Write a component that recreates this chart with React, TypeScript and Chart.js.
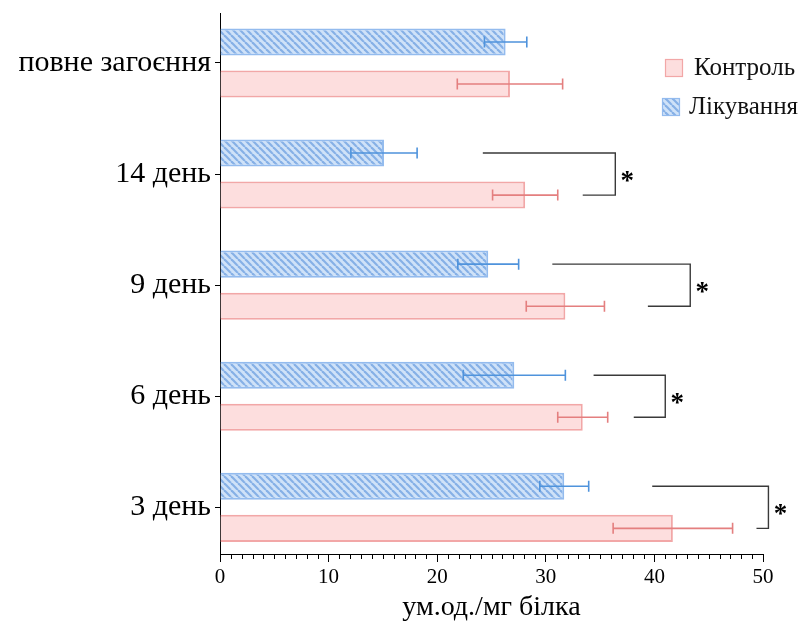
import React, { useEffect, useRef } from "react";
import { Chart, registerables } from "chart.js";

Chart.register(...registerables);

// Categories from top to bottom and their positions on the vertical axis
const categories = ["повне загоєння", "14 день", "9 день", "6 день", "3 день"];
const categoryPos = [4, 3, 2, 1, 0];

const controlLabel = "Контроль";
const controlMeans = [26.7, 28.1, 31.8, 33.4, 41.7];
const controlErrors = [4.85, 3.0, 3.6, 2.3, 5.5];

const treatmentLabel = "Лікування";
const treatmentMeans = [26.3, 15.1, 24.7, 27.1, 31.7];
const treatmentErrors = [1.95, 3.05, 2.8, 4.7, 2.25];

const xTickValues = [0, 10, 20, 30, 40, 50];
const xTitle = "ум.од./мг білка";

// Significance brackets: category index, start of the upper arm, start of the lower arm, spine
const sigIndex = [1, 2, 3, 4];
const sigUpperStart = [24.2, 30.6, 34.4, 39.8];
const sigLowerStart = [33.4, 39.4, 38.1, 49.4];
const sigSpine = [36.4, 43.3, 41.0, 50.5];
const sigMark = "*";

const FONT = "'Liberation Serif', 'Times New Roman', serif";

const PINK_FILL = "#fddede";
const PINK_BORDER = "#f2a7a7";
const PINK_ERR = "#e47f7f";
const BLUE_BG = "#cfe2f8";
const BLUE_STRIPE = "#86b0e6";
const BLUE_BORDER = "#93bbee";
const BLUE_ERR = "#4f93dc";

function makeStripePattern(ctx: CanvasRenderingContext2D): CanvasPattern | string {
  const s = 7;
  const c = document.createElement("canvas");
  c.width = s;
  c.height = s;
  const p = c.getContext("2d");
  if (!p) return BLUE_BG;
  p.fillStyle = BLUE_BG;
  p.fillRect(0, 0, s, s);
  p.strokeStyle = BLUE_STRIPE;
  p.lineWidth = 2.2;
  for (const k of [-s, 0, s]) {
    p.beginPath();
    p.moveTo(k, 0);
    p.lineTo(k + s, s);
    p.stroke();
  }
  return ctx.createPattern(c, "repeat") || BLUE_BG;
}

export default function App() {
  const canvasRef = useRef<HTMLCanvasElement | null>(null);

  useEffect(() => {
    const canvas = canvasRef.current;
    if (!canvas) return;
    const ctx = canvas.getContext("2d");
    if (!ctx) return;
    const stripes = makeStripePattern(ctx);

    const errorBars = {
      id: "errorBars",
      afterDatasetsDraw(chart: any) {
        const c = chart.ctx;
        const xs = chart.scales.x;
        chart.data.datasets.forEach((ds: any, i: number) => {
          const meta = chart.getDatasetMeta(i);
          meta.data.forEach((el: any, j: number) => {
            const m = ds.data[j].x;
            const e = ds.errors[j];
            const x1 = xs.getPixelForValue(m - e);
            const x2 = xs.getPixelForValue(m + e);
            const y = el.y;
            c.save();
            c.strokeStyle = ds.errorColor;
            c.lineWidth = 1.6;
            c.beginPath();
            c.moveTo(x1, y);
            c.lineTo(x2, y);
            c.moveTo(x1, y - 5.5);
            c.lineTo(x1, y + 5.5);
            c.moveTo(x2, y - 5.5);
            c.lineTo(x2, y + 5.5);
            c.stroke();
            c.restore();
          });
        });
      },
    };

    const extras = {
      id: "extras",
      afterDraw(chart: any) {
        const c = chart.ctx;
        const xs = chart.scales.x;
        const area = chart.chartArea;

        // minor ticks on the value axis
        c.save();
        c.strokeStyle = "#000";
        c.lineWidth = 1;
        c.beginPath();
        for (let v = xs.min; v <= xs.max; v++) {
          if (v % 10 === 0) continue;
          const px = Math.round(xs.getPixelForValue(v)) + 0.5;
          c.moveTo(px, area.bottom);
          c.lineTo(px, area.bottom + 5);
        }
        c.stroke();
        c.restore();

        // significance brackets
        const upperMeta = chart.getDatasetMeta(0);
        const lowerMeta = chart.getDatasetMeta(1);
        c.save();
        c.strokeStyle = "#3a3a3a";
        c.lineWidth = 1.4;
        sigIndex.forEach((idx, k) => {
          const yT = upperMeta.data[idx].y;
          const yB = lowerMeta.data[idx].y;
          const xU = xs.getPixelForValue(sigUpperStart[k]);
          const xL = xs.getPixelForValue(sigLowerStart[k]);
          const xS = xs.getPixelForValue(sigSpine[k]);
          c.beginPath();
          c.moveTo(xU, yT);
          c.lineTo(xS, yT);
          c.lineTo(xS, yB);
          c.lineTo(xL, yB);
          c.stroke();
          c.fillStyle = "#000";
          c.font = `bold 27px ${FONT}`;
          c.textAlign = "center";
          c.textBaseline = "alphabetic";
          c.fillText(sigMark, xS + 12, (yT + yB) / 2 + 15);
        });
        c.restore();

        // legend
        const items = [
          { label: chart.data.datasets[1].label, fill: PINK_FILL, border: PINK_BORDER, bx: 665, ty: 68, tx: 694 },
          { label: chart.data.datasets[0].label, fill: stripes, border: BLUE_BORDER, bx: 662, ty: 107, tx: 689 },
        ];
        c.save();
        items.forEach((it) => {
          c.fillStyle = it.fill as any;
          c.fillRect(it.bx, it.ty - 9, 18, 18);
          c.strokeStyle = it.border;
          c.lineWidth = 1.2;
          c.strokeRect(it.bx + 0.5, it.ty - 8.5, 17, 17);
          c.fillStyle = "#111";
          c.font = `25px ${FONT}`;
          c.textAlign = "left";
          c.textBaseline = "middle";
          c.fillText(it.label, it.tx, it.ty);
        });
        c.restore();
      },
    };

    const chart = new Chart(ctx, {
      type: "bar",
      data: {
        datasets: [
          {
            label: treatmentLabel,
            data: treatmentMeans.map((v, i) => ({ x: v, y: categoryPos[i] })),
            backgroundColor: stripes as any,
            borderColor: BLUE_BORDER,
            borderWidth: 2,
            errors: treatmentErrors,
            errorColor: BLUE_ERR,
          } as any,
          {
            label: controlLabel,
            data: controlMeans.map((v, i) => ({ x: v, y: categoryPos[i] })),
            backgroundColor: PINK_FILL,
            borderColor: PINK_BORDER,
            borderWidth: 2,
            errors: controlErrors,
            errorColor: PINK_ERR,
          } as any,
        ],
      },
      options: {
        indexAxis: "y",
        responsive: false,
        animation: false,
        categoryPercentage: 0.757,
        barPercentage: 0.643,
        layout: { padding: { top: 13, right: 42, bottom: 0, left: 0 } },
        plugins: {
          legend: { display: false },
          tooltip: { enabled: false },
        },
        scales: {
          x: {
            type: "linear",
            min: 0,
            max: 50,
            afterFit: (s: any) => {
              s.height = 74;
            },
            afterBuildTicks: (s: any) => {
              s.ticks = xTickValues.map((v) => ({ value: v }));
            },
            grid: { display: true, drawOnChartArea: false, drawTicks: true, tickLength: 8, color: "#000" },
            border: { display: true, color: "#000", width: 1 },
            ticks: { color: "#000", font: { family: FONT, size: 21 }, padding: 3, maxRotation: 0 },
            title: {
              display: true,
              text: xTitle,
              color: "#000",
              font: { family: FONT, size: 28 },
              padding: { top: 0, bottom: 4 },
            },
          },
          y: {
            type: "linear",
            min: -0.42,
            max: 4.45,
            offset: false,
            afterFit: (s: any) => {
              s.width = 220;
              s.paddingTop = 0;
              s.paddingBottom = 0;
            },
            afterBuildTicks: (s: any) => {
              s.ticks = categoryPos.map((v) => ({ value: v }));
            },
            grid: {
              display: true,
              offset: false,
              drawOnChartArea: false,
              drawTicks: true,
              tickLength: 5,
              color: "#000",
            },
            border: { display: true, color: "#000", width: 1 },
            ticks: {
              color: "#000",
              font: { family: FONT, size: 30 },
              padding: 4,
              callback: (value: any) => categories[categoryPos.indexOf(value)],
            },
          },
        },
      } as any,
      plugins: [errorBars, extras],
    });

    return () => chart.destroy();
  }, []);

  return (
    <div style={{ position: "absolute", left: 0, top: 0, width: 805, height: 628, background: "#fff" }}>
      <canvas ref={canvasRef} width={805} height={628} />
    </div>
  );
}
